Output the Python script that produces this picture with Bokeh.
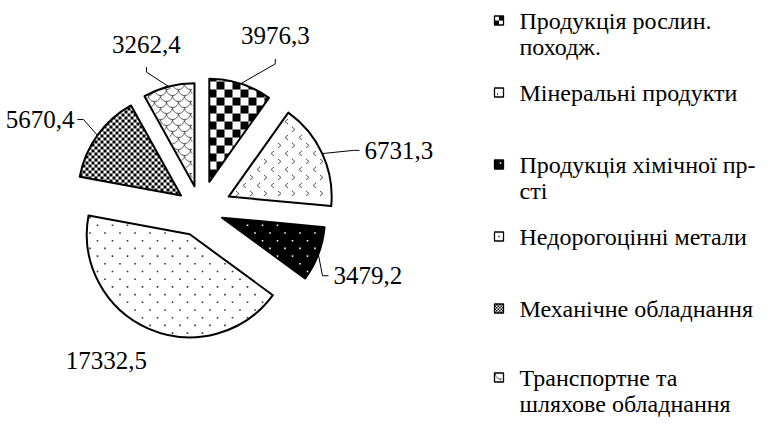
import math
from bokeh.plotting import figure
from bokeh.models import ColumnDataSource, Range1d
from bokeh.core.properties import value
from bokeh.embed import file_html
from bokeh.resources import INLINE

# ---------------- data ----------------
categories = [
    "Продукція рослин.\nпоходж.",
    "Мінеральні продукти",
    "Продукція хімічної пр-\nсті",
    "Недорогоцінні метали",
    "Механічне обладнання",
    "Транспортне та\nшляхове обладнання",
]
values = [3976.3, 6731.3, 3479.2, 17332.5, 5670.4, 3262.4]
value_labels = [f"{v:.1f}".replace(".", ",") for v in values]

# ---------------- style ----------------
W, H = 779, 433
pie_cx, pie_cy = 208, 217          # screen px of pie centre
radius = 103
explode = [29, 31, 23, 27, 24, 24]
patterns = ["big_check", "chevrons", "dots_light", "dots_dark", "small_check", "scales"]
fills = ["white", "white", "black", "white", "white", "white"]
label_angle = [23.3, 73.4, 111.6, 211.9, 299.3, 341.9]
label_dist = [189, 207, 180, 178, 184, 174]
leader_side = ["top", "right", "right", None, "left", "top"]
label_px = 25
legend_rows = [28, 100, 172, 244, 316, 385]   # screen y of first line
legend_gap = 26
legend_px = 24
marker_x = 506.5
marker_size = 9
text_x = 527
FONT = "Liberation Serif"


# ---------------- geometry helpers ----------------
def pol(cx, cy, ang, d):
    """screen coords, angle clockwise from north"""
    r = math.radians(ang)
    return cx + d * math.sin(r), cy - d * math.cos(r)


def cross_ok(A, B, P, m=0.0):
    dx, dy = B[0] - A[0], B[1] - A[1]
    L = math.hypot(dx, dy)
    if L == 0:
        return True
    return dx * (P[1] - A[1]) - dy * (P[0] - A[0]) >= m * L


def inside(P, poly, m=0.0):
    n = len(poly)
    return all(cross_ok(poly[k], poly[(k + 1) % n], P, m) for k in range(n))


def clip_poly(subject, clip):
    out = list(subject)
    n = len(clip)
    for k in range(n):
        if not out:
            break
        A, B = clip[k], clip[(k + 1) % n]
        dx, dy = B[0] - A[0], B[1] - A[1]
        if dx == 0 and dy == 0:
            continue

        def side(P):
            return dx * (P[1] - A[1]) - dy * (P[0] - A[0])

        inp, out = out, []
        S = inp[-1]
        for E in inp:
            sE, sS = side(E), side(S)
            if sE >= 0:
                if sS < 0:
                    t = sS / (sS - sE)
                    out.append((S[0] + t * (E[0] - S[0]), S[1] + t * (E[1] - S[1])))
                out.append(E)
            elif sS >= 0:
                t = sS / (sS - sE)
                out.append((S[0] + t * (E[0] - S[0]), S[1] + t * (E[1] - S[1])))
            S = E
    return out


def bbox(poly):
    xs = [p[0] for p in poly]
    ys = [p[1] for p in poly]
    return min(xs), max(xs), min(ys), max(ys)


# ---------------- texture generators (data coords, y up) ----------------
def tex_checker(poly, cell, ox=0.0, oy=0.0):
    x0, x1, y0, y1 = bbox(poly)
    out = []
    for i in range(math.floor((x0 - ox) / cell) - 1, math.ceil((x1 - ox) / cell) + 1):
        for j in range(math.floor((y0 - oy) / cell) - 1, math.ceil((y1 - oy) / cell) + 1):
            if (i + j) % 2:
                continue
            a, b = ox + i * cell, oy + j * cell
            sq = [(a, b), (a + cell, b), (a + cell, b + cell), (a, b + cell)]
            c = clip_poly(sq, poly)
            if len(c) >= 3:
                out.append(c)
    return out


def lattice(poly, px, py, ox=0.0, oy=0.0, m=1.5):
    x0, x1, y0, y1 = bbox(poly)
    pts = []
    for j in range(math.floor((y0 - oy) / py) - 1, math.ceil((y1 - oy) / py) + 2):
        off = (j % 2) * px / 2
        for i in range(math.floor((x0 - ox) / px) - 2, math.ceil((x1 - ox) / px) + 2):
            P = (ox + off + i * px, oy + j * py)
            if inside(P, poly, m):
                pts.append((P, j))
    return pts


def tex_chevrons(poly, ox=0.0, oy=0.0):
    lines = []
    for (x, y), j in lattice(poly, 14, 8, ox, oy, m=3.5):
        s = 1 if j % 2 == 0 else -1
        lines.append(([x + 1.5 * s, x - 1.5 * s, x + 1.5 * s], [y + 2.5, y, y - 2.5]))
    return lines


def tex_scales(poly, s=12, ox=0.0, oy=0.0):
    lines = []
    x0, x1, y0, y1 = bbox(poly)
    r = s / 2
    for j in range(math.floor((y0 - oy) / r) - 1, math.ceil((y1 - oy) / r) + 2):
        off = (j % 2) * r
        for i in range(math.floor((x0 - ox) / s) - 2, math.ceil((x1 - ox) / s) + 2):
            cx, cy = ox + off + i * s, oy + j * r
            run_x, run_y = [], []
            for k in range(13):
                a = math.pi + math.pi * k / 12
                P = (cx + r * math.cos(a), cy + r * math.sin(a))
                if inside(P, poly, 1.0):
                    run_x.append(P[0])
                    run_y.append(P[1])
                else:
                    if len(run_x) > 1:
                        lines.append((run_x, run_y))
                    run_x, run_y = [], []
            if len(run_x) > 1:
                lines.append((run_x, run_y))
    return lines


# ---------------- pie geometry ----------------
total = sum(values)
starts, ends = [], []
acc = 0.0
for v in values:
    starts.append(acc)
    acc += v / total * 360.0
    ends.append(acc)
mids = [(a + b) / 2 for a, b in zip(starts, ends)]

wx, wy, sa, ea, apexes, polys = [], [], [], [], [], []
for i in range(len(values)):
    ax, ay = pol(pie_cx, pie_cy, mids[i], explode[i])
    apexes.append((ax, ay))
    wx.append(ax)
    wy.append(H - ay)
    a_lo = math.radians(90 - ends[i])
    a_hi = math.radians(90 - starts[i])
    sa.append(a_lo)
    ea.append(a_hi)
    poly = [(ax, H - ay)]
    for k in range(73):
        a = a_lo + (a_hi - a_lo) * k / 72
        poly.append((ax + radius * math.cos(a), H - ay + radius * math.sin(a)))
    polys.append(poly)

# legend marker squares
mk_y = [H - r for r in legend_rows]
mk_polys = []
h = marker_size / 2
for y in mk_y:
    mk_polys.append([(marker_x - h, y - h), (marker_x + h, y - h),
                     (marker_x + h, y + h), (marker_x - h, y + h)])

# ---------------- build textures ----------------
patch_xs, patch_ys = [], []
dot_x, dot_y, dot_c = [], [], []
tl_xs, tl_ys = [], []


def add_texture(kind, poly, legend=False, corner=(0.0, 0.0)):
    ox, oy = corner
    if kind == "big_check":
        cell = 4.5 if legend else 8
        for c in tex_checker(poly, cell, ox, oy):
            patch_xs.append([p[0] for p in c])
            patch_ys.append([p[1] for p in c])
    elif kind == "small_check":
        for c in tex_checker(poly, 3 if not legend else 1.5, ox, oy):
            patch_xs.append([p[0] for p in c])
            patch_ys.append([p[1] for p in c])
    elif kind in ("dots_light", "dots_dark"):
        col = "white" if kind == "dots_light" else "#333333"
        if legend:
            d = 1.5 if kind == "dots_light" else 0
            pts = [((ox + 4.5 + d, oy + 4.5 + d), 0)]
        else:
            pts = lattice(poly, 15, 7.7, ox, oy, m=1.5)
        for (x, y), _ in pts:
            dot_x.append(x)
            dot_y.append(y)
            dot_c.append(col)
    elif kind == "chevrons":
        if legend:
            lines = [([ox + 3.5, ox + 2.5, ox + 3.5], [oy + 4, oy + 3, oy + 2])]
        else:
            lines = tex_chevrons(poly, ox, oy)
        for xs, ys in lines:
            tl_xs.append(xs)
            tl_ys.append(ys)
    elif kind == "scales":
        if legend:
            lines = tex_scales(poly, 10, ox + 6, oy + 8)
        else:
            lines = tex_scales(poly, 12, ox, oy)
        for xs, ys in lines:
            tl_xs.append(xs)
            tl_ys.append(ys)


for i in range(len(values)):
    add_texture(patterns[i], polys[i])
    mp = mk_polys[i]
    add_texture(patterns[i], mp, legend=True, corner=mp[0])

# ---------------- figure ----------------
p = figure(width=W - 16, height=H - 16, x_range=Range1d(8, W - 8), y_range=Range1d(8, H - 8),
           output_backend="svg", toolbar_location=None, min_border=0,
           x_axis_type=None, y_axis_type=None, outline_line_color=None)
p.grid.visible = False
p.background_fill_color = "white"
p.border_fill_color = "white"

wedge_src = ColumnDataSource(dict(x=wx, y=wy, start=sa, end=ea, fill=fills, name=categories))
leg_src = ColumnDataSource(dict(x=[marker_x] * len(values), y=mk_y, fill=fills))

# slice fills
p.wedge(x="x", y="y", radius=radius, start_angle="start", end_angle="end",
        direction="anticlock", source=wedge_src, fill_color="fill", line_color=None)
p.rect(x="x", y="y", width=marker_size, height=marker_size, source=leg_src,
       fill_color="fill", line_color=None)

# textures
p.patches(xs=patch_xs, ys=patch_ys, fill_color="black", line_color=None)
p.rect(x=dot_x, y=dot_y, width=1.6, height=1.6, fill_color=dot_c, line_color=None)
p.multi_line(xs=tl_xs, ys=tl_ys, line_color="#555555", line_width=1)

# outlines
p.wedge(x="x", y="y", radius=radius, start_angle="start", end_angle="end",
        direction="anticlock", source=wedge_src, fill_color=None,
        line_color="black", line_width=2, line_join="round")
p.rect(x="x", y="y", width=marker_size, height=marker_size, source=leg_src,
       fill_color=None, line_color="black", line_width=1.3)

# value labels and leader lines
lx, ly = [], []
lead_xs, lead_ys = [], []
for i in range(len(values)):
    cx, cy = pol(pie_cx, pie_cy, label_angle[i], label_dist[i])
    lx.append(cx)
    ly.append(H - cy)
    side = leader_side[i]
    if side is None:
        continue
    s = pol(apexes[i][0], apexes[i][1], mids[i], radius)
    n_dig = sum(ch.isdigit() for ch in value_labels[i])
    hw = label_px * (0.5 * n_dig + 0.25) / 2
    if side == "top":
        elbow, end = (cx, cy + 28), (cx, cy + 23)
    elif side == "right":
        elbow, end = (cx - hw - 11, cy), (cx - hw - 5, cy)
    else:
        elbow, end = (cx + hw + 9, cy), (cx + hw + 3, cy)
    lead_xs.append([s[0], elbow[0], end[0]])
    lead_ys.append([H - s[1], H - elbow[1], H - end[1]])

p.multi_line(xs=lead_xs, ys=lead_ys, line_color="black", line_width=1)
p.text(x=lx, y=ly, text=value_labels, text_align="center", text_baseline="middle",
       text_font=value(FONT), text_font_size=f"{label_px}px", text_color="black")

# legend texts
tx, ty, tt = [], [], []
for i, cat in enumerate(categories):
    for k, line in enumerate(cat.split("\n")):
        tx.append(text_x)
        ty.append(H - (legend_rows[i] + k * legend_gap))
        tt.append(line)
p.text(x=tx, y=ty, text=tt, text_align="left", text_baseline="middle",
       text_font=value(FONT), text_font_size=f"{legend_px}px", text_color="black")

open("out.html", "w").write(file_html(p, INLINE))
